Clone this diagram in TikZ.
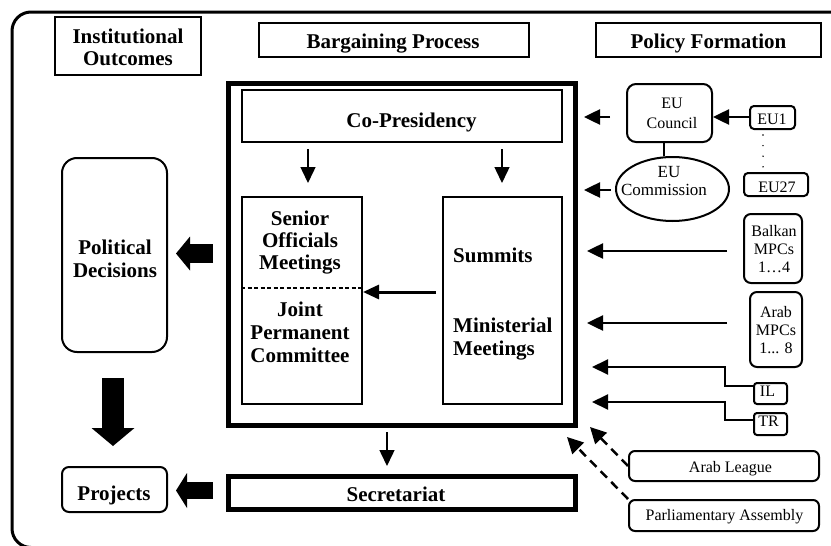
\documentclass[tikz,border=0pt]{standalone}
\usepackage{fontspec}
\setmainfont{Liberation Serif}
\usetikzlibrary{arrows.meta,shapes.geometric}
\begin{document}
\begin{tikzpicture}[x=1pt,y=-1pt,
  hd/.style={font=\fontsize{21}{23}\selectfont\bfseries, anchor=base, inner sep=0pt},
  rg/.style={font=\fontsize{16}{18}\selectfont, anchor=base, inner sep=0pt},
  rgl/.style={font=\fontsize{17}{19}\selectfont, anchor=base, inner sep=0pt},
  bx/.style={draw, line width=2pt, inner sep=0pt},
  thickbx/.style={draw, line width=5pt, inner sep=0pt},
  rbx/.style={bx, rounded corners=#1},
  rbx/.default=6pt,
  arr/.style={-{Triangle[length=16pt,width=15pt]}, line width=1.5pt},
  arrthick/.style={-{Triangle[length=16pt,width=14pt]}, line width=3pt},
  arrmid/.style={-{Triangle[length=16pt,width=15pt]}, line width=2.5pt},
  arrmidb/.style={-{Triangle[length=16pt,width=15pt]}, line width=2pt},
  darr/.style={-{Triangle[length=16pt,width=16pt]}, line width=2.5pt, dash pattern=on 9pt off 6pt},
]
\useasboundingbox (0,0) rectangle (831,546);
\clip (0,0) rectangle (831,546);
% outer frame
\draw[line width=3pt, rounded corners=19pt] (850,12) -- (12,12) -- (12,547.5) -- (850,547.5);

% header boxes
\node[bx, minimum width=146pt, minimum height=58pt] (io) at (128,46) {};
\node[bx, minimum width=270pt, minimum height=34pt] (bp) at (394,40) {};
\node[bx, minimum width=225pt, minimum height=34pt] (pf) at (708.5,40) {};
\node[hd] (ioa) at (128,43) {Institutional};
\node[hd] (iob) at (128,65) {Outcomes};
\node[hd] (bpt) at (393,48) {Bargaining Process};
\node[hd] (pft) at (708.5,48) {Policy Formation};

% central block
\node[thickbx, minimum width=347pt, minimum height=342pt] (main) at (402,254.5) {};
\node[bx, minimum width=320pt, minimum height=52pt] (cp) at (402,116) {};
\node[hd] (cpt) at (411.5,127) {Co-Presidency};
\node[bx, minimum width=120pt, minimum height=207pt] (so) at (302,300.5) {};
\node[bx, minimum width=119pt, minimum height=207pt] (su) at (502.5,300.5) {};
\draw[line width=1.5pt, dash pattern=on 4pt off 2.5pt] (so.west |- 0,288) -- (so.east |- 0,288);
\node[hd] (so1) at (300,225) {Senior};
\node[hd] (so2) at (300,247) {Officials};
\node[hd] (so3) at (300,269) {Meetings};
\node[hd] (jp1) at (300,316) {Joint};
\node[hd] (jp2) at (300,339) {Permanent};
\node[hd] (jp3) at (300,362) {Committee};
\node[hd, anchor=base west] (su1) at (453,262) {Summits};
\node[hd, anchor=base west] (su2) at (453,332) {Ministerial};
\node[hd, anchor=base west] (su3) at (453,355) {Meetings};

\node[thickbx, minimum width=347pt, minimum height=33pt] (sec) at (402,493) {};
\node[hd] (sect) at (396,501) {Secretariat};

% outcomes
\node[rbx=15pt, minimum width=105pt, minimum height=194pt] (pd) at (114.5,255) {};
\node[hd] (pd1) at (115,254) {Political};
\node[hd] (pd2) at (115,277) {Decisions};
\node[rbx=7pt, minimum width=105pt, minimum height=45pt] (pr) at (114.5,489.5) {};
\node[hd] (prt) at (114,500) {Projects};

% policy formation actors
\node[rbx=9pt, minimum width=85pt, minimum height=58pt] (euc) at (669.5,113) {};
\node[rg] (euc1) at (672,108) {EU};
\node[rg] (euc2) at (672,128) {Council};
\node[draw, line width=2pt, ellipse, inner sep=0pt, minimum width=113pt, minimum height=64pt] (ecom) at (672.5,189) {};
\node[rgl] (ecom1) at (669,177) {EU};
\node[rgl] (ecom2) at (664,195) {Commission};
\node[rbx=4pt, minimum width=45pt, minimum height=23pt] (eu1) at (772.5,117.5) {};
\node[rg] (eu1t) at (772,124) {EU1};
\node[rbx=4pt, minimum width=64pt, minimum height=23pt] (eu27) at (776,184.5) {};
\node[rg] (eu27t) at (777,192) {EU27};
\node[rbx=7pt, minimum width=58pt, minimum height=69pt] (bal) at (773,248.5) {};
\node[rg] (bal1) at (774,236) {Balkan};
\node[rg] (bal2) at (774,254) {MPCs};
\node[rg] (bal3) at (774,272) {1…4};
\node[rbx=7pt, minimum width=52pt, minimum height=75pt] (arab) at (776,329.5) {};
\node[rg] (arab1) at (776,317) {Arab};
\node[rg] (arab2) at (776,335) {MPCs};
\node[rg] (arab3) at (776,353) {1... 8};
\node[rbx=3pt, minimum width=33pt, minimum height=21pt] (il) at (770.5,393.5) {};
\node[rg] (ilt) at (767.5,396) {IL};
\node[rbx=3pt, minimum width=33pt, minimum height=22pt] (tr) at (770.5,424) {};
\node[rg] (trt) at (768.5,426) {TR};
\node[rbx=6pt, minimum width=190pt, minimum height=30pt] (al) at (724,466) {};
\node[rg] (alt) at (730.5,472) {Arab League};
\node[rbx=6pt, minimum width=190pt, minimum height=31pt] (pa) at (724,515.5) {};
\node[rg] (pat) at (724.5,520) {Parliamentary Assembly};

% connectors inside the bargaining process
\draw[arr, shorten <=6pt, shorten >=13pt] (cp.south -| 308,0) -- (so.north -| 308,0);
\draw[arr, shorten <=6pt, shorten >=13pt] (cp.south -| 502,0) -- (su.north -| 502,0);
\draw[arrthick, shorten <=6pt] (su.west |- 0,292) -- (so.east |- 0,292);
\draw[arr, shorten <=4pt, shorten >=8pt] (main.south -| 387,0) -- (sec.north -| 387,0);

% fat arrows
\draw[line width=19pt, -{Triangle[length=14pt,width=34pt,line width=0pt]}, shorten <=13pt, shorten >=8pt] (main.west |- 0,253.5) -- (pd.east |- 0,253.5);
\draw[line width=22pt, -{Triangle[length=18pt,width=43pt,line width=0pt]}, shorten <=25pt, shorten >=20pt] (pd.south -| 113,0) -- (pr.north -| 113,0);
\draw[line width=17pt, -{Triangle[length=11pt,width=35pt,line width=0pt]}, shorten <=13pt, shorten >=8pt] (sec.west |- 0,490.5) -- (pr.east |- 0,490.5);

% policy formation connectors
\draw[arrmid, shorten <=16pt, shorten >=6pt] (euc.west |- 0,117) -- (main.east |- 0,117);
\draw[arrmid, shorten <=4.5pt, shorten >=6pt] (ecom.west |- 0,190) -- (main.east |- 0,190);
\draw[arrmid] (eu1.west |- 0,117) -- (euc.east |- 0,117);
\draw[line width=1.5pt] (euc.south -| 664,0) -- (ecom.north -| 664,0);
\draw[line width=1.6pt, line cap=round, dash pattern=on 0pt off 10.6pt, shorten <=5pt, shorten >=5pt] (eu1.south -| 763,0) -- (eu27.north -| 763,0);
\draw[arrmid, shorten <=16pt, shorten >=9pt] (bal.west |- 0,251) -- (main.east |- 0,251);
\draw[arrmid, shorten <=22pt, shorten >=9pt] (arab.west |- 0,323) -- (main.east |- 0,323);
\draw[arrmidb] (il.west |- 0,386) -- ++(-28,0) |- ([xshift=14pt]main.east |- 0,367);
\draw[arrmidb] (tr.west |- 0,420) -- ++(-28,0) |- ([xshift=14pt]main.east |- 0,402);
\draw[darr] (al.west) -- ([xshift=12pt,yshift=1pt]main.south east);
\draw[darr] (pa.north west) -- ([xshift=-11pt,yshift=-9pt]main.south east);
\end{tikzpicture}
\end{document}
